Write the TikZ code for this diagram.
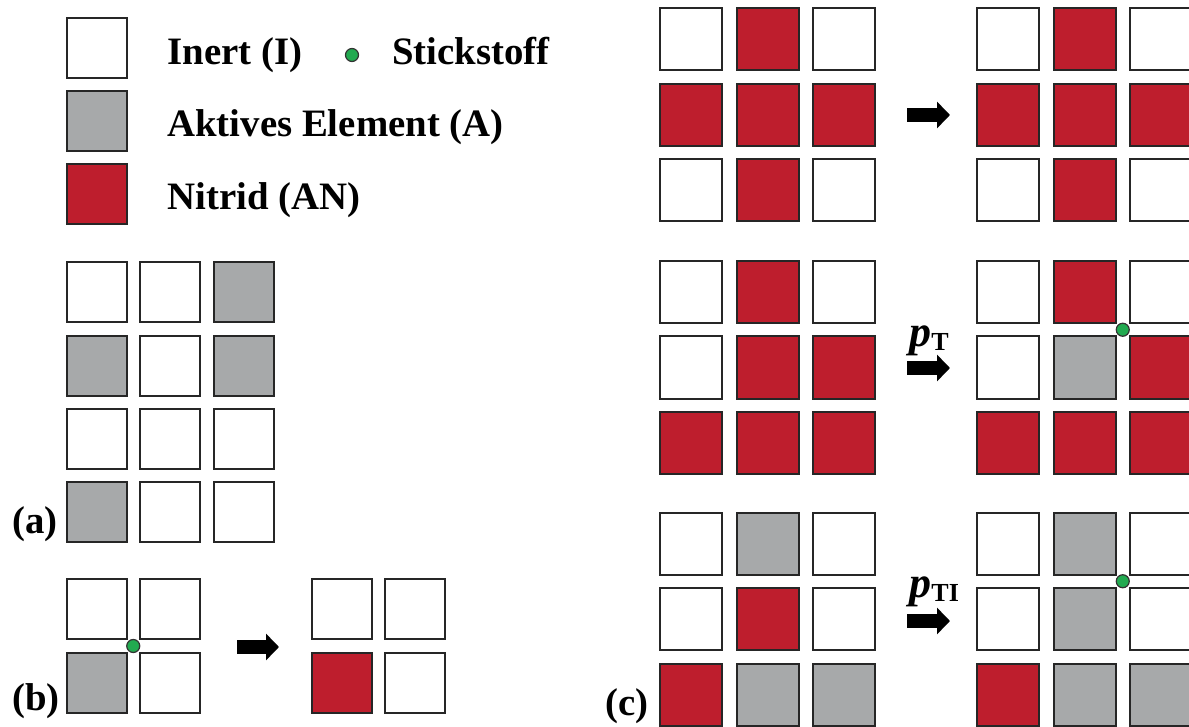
\documentclass[tikz,border=0pt]{standalone}
\usepackage{fontspec}
\setmainfont{Liberation Serif}
\usetikzlibrary{arrows.meta,calc}

\definecolor{nitridred}{RGB}{190,30,45}
\definecolor{aktivgrey}{RGB}{167,169,170}
\definecolor{nitrogreen}{RGB}{34,170,80}

\tikzset{
  cell/.style={draw=black!85, line width=1pt, minimum size=30pt, inner sep=0pt, outer sep=0pt},
  bigcell/.style={cell, minimum size=31pt},
  inertcell/.style={fill=white},
  aktivcell/.style={fill=aktivgrey},
  nitridcell/.style={fill=nitridred},
  ndot/.style={circle, draw=black!80, fill=nitrogreen, line width=0.6pt, minimum size=6.5pt, inner sep=0pt},
  reactarrow/.style={line width=7pt, -{Triangle[length=6.5pt,width=13pt]}},
  lbl/.style={font=\fontsize{19.4}{23}\selectfont\bfseries, inner sep=0pt, anchor=base west},
  ratelbl/.style={font=\fontsize{22}{24}\selectfont\bfseries\itshape, inner sep=0pt, anchor=base west}
}

\begin{document}
\begin{tikzpicture}[x=0.5pt,y=-0.5pt]

\clip (0,0) rectangle (1189,727);

%% Legend
\node [cell,inertcell]  (leg-I) at (96.5,48.5) {};
\node [cell,aktivcell]  (leg-A) at (96.5,121.5) {};
\node [cell,nitridcell] (leg-N) at (96.5,194.5) {};
\node [lbl] (txt-I) at (167,65) {Inert (I)};
\node [lbl] (txt-A) at (167,137) {Aktives Element (A)};
\node [lbl] (txt-N) at (167,210) {Nitrid (AN)};
\node [ndot] (leg-dot) at (352,55) {};
\node [lbl] (txt-dot) at (392,65) {Stickstoff};

%% (a) starting configuration
\foreach \c [count=\k from 0] in {inertcell,inertcell,aktivcell,
                                  aktivcell,inertcell,aktivcell,
                                  inertcell,inertcell,inertcell,
                                  aktivcell,inertcell,inertcell} {
  \pgfmathtruncatemacro\row{int(\k/3)}
  \pgfmathtruncatemacro\col{mod(\k,3)}
  \node [cell,\c] (a-\row\col) at (96.5+73.7*\col,292.5+73.2*\row) {};
}
\node [lbl] (lbl-a) at (12,533) {(a)};

%% (b) nitride formation
\foreach \c [count=\k from 0] in {inertcell,inertcell,aktivcell,inertcell} {
  \pgfmathtruncatemacro\row{int(\k/2)}
  \pgfmathtruncatemacro\col{mod(\k,2)}
  \node [cell,\c] (bl-\row\col) at (96.5+73.5*\col,609+74*\row) {};
}
\foreach \c [count=\k from 0] in {inertcell,inertcell,nitridcell,inertcell} {
  \pgfmathtruncatemacro\row{int(\k/2)}
  \pgfmathtruncatemacro\col{mod(\k,2)}
  \node [cell,\c] (br-\row\col) at (341.5+73.5*\col,609+74*\row) {};
}
\node [ndot] (b-dot) at ($(bl-00.south east)!0.5!(bl-11.north west)$) {};
\coordinate (b-s) at (237,647);
\coordinate (b-e) at (279,647);
\draw [reactarrow] (b-s) -- (b-e);
\node [lbl] (lbl-b) at (12,710) {(b)};

%% (c) top row: nothing happens
\foreach \c [count=\k from 0] in {inertcell,nitridcell,inertcell,
                                  nitridcell,nitridcell,nitridcell,
                                  inertcell,nitridcell,inertcell} {
  \pgfmathtruncatemacro\row{int(\k/3)}
  \pgfmathtruncatemacro\col{mod(\k,3)}
  \node [bigcell,\c] (ctl-\row\col) at (691+76.5*\col,39.5+75.5*\row) {};
  \node [bigcell,\c] (ctr-\row\col) at (1008+76.5*\col,39.5+75.5*\row) {};
}
\coordinate (ct-s) at (907,115);
\coordinate (ct-e) at (950,115);
\draw [reactarrow] (ct-s) -- (ct-e);

%% (c) middle row: decay with p_T
\foreach \c [count=\k from 0] in {inertcell,nitridcell,inertcell,
                                  inertcell,nitridcell,nitridcell,
                                  nitridcell,nitridcell,nitridcell} {
  \pgfmathtruncatemacro\row{int(\k/3)}
  \pgfmathtruncatemacro\col{mod(\k,3)}
  \node [bigcell,\c] (cml-\row\col) at (691+76.5*\col,292+75.5*\row) {};
}
\foreach \c [count=\k from 0] in {inertcell,nitridcell,inertcell,
                                  inertcell,aktivcell,nitridcell,
                                  nitridcell,nitridcell,nitridcell} {
  \pgfmathtruncatemacro\row{int(\k/3)}
  \pgfmathtruncatemacro\col{mod(\k,3)}
  \node [bigcell,\c] (cmr-\row\col) at (1008+76.5*\col,292+75.5*\row) {};
}
\node [ndot] (cm-dot) at ($(cmr-01.south east)!0.5!(cmr-12.north west)$) {};
\coordinate (cm-s) at (907,368);
\coordinate (cm-e) at (950,368);
\draw [reactarrow] (cm-s) -- (cm-e);
\node [ratelbl] (pT) at (909,346)
  {p\raisebox{-2pt}{\fontsize{13}{14}\selectfont\upshape T}};

%% (c) bottom row: decay with p_TI
\foreach \c [count=\k from 0] in {inertcell,aktivcell,inertcell,
                                  inertcell,nitridcell,inertcell,
                                  nitridcell,aktivcell,aktivcell} {
  \pgfmathtruncatemacro\row{int(\k/3)}
  \pgfmathtruncatemacro\col{mod(\k,3)}
  \node [bigcell,\c] (cbl-\row\col) at (691+76.5*\col,543.5+75.5*\row) {};
}
\foreach \c [count=\k from 0] in {inertcell,aktivcell,inertcell,
                                  inertcell,aktivcell,inertcell,
                                  nitridcell,aktivcell,aktivcell} {
  \pgfmathtruncatemacro\row{int(\k/3)}
  \pgfmathtruncatemacro\col{mod(\k,3)}
  \node [bigcell,\c] (cbr-\row\col) at (1008+76.5*\col,543.5+75.5*\row) {};
}
\node [ndot] (cb-dot) at ($(cbr-01.south east)!0.5!(cbr-12.north west)$) {};
\coordinate (cb-s) at (907,621);
\coordinate (cb-e) at (950,621);
\draw [reactarrow] (cb-s) -- (cb-e);
\node [ratelbl] (pTI) at (909,597)
  {p\raisebox{-2pt}{\fontsize{13}{14}\selectfont\upshape TI}};
\node [lbl] (lbl-c) at (605,715) {(c)};

\end{tikzpicture}
\end{document}
